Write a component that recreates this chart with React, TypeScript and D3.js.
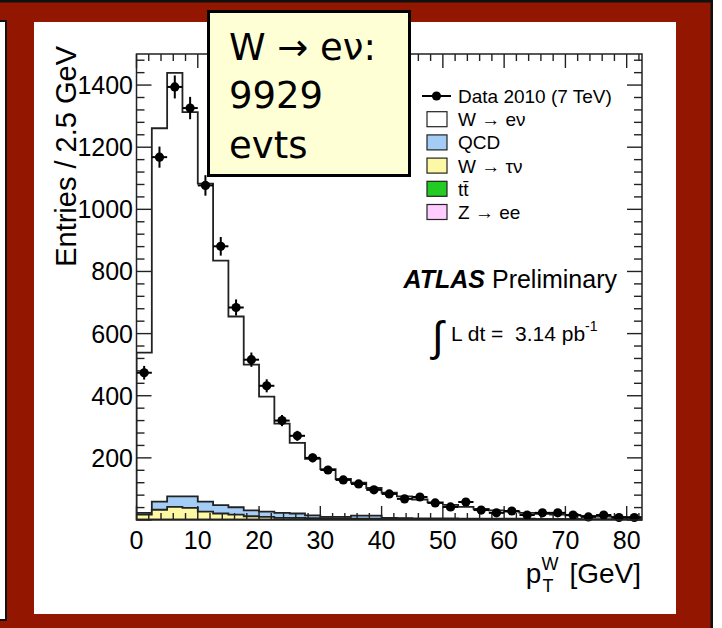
import React from "react";
import * as d3 from "d3";

// ---- data ----
const binWidth = 2.5;
const dataCounts = [474, 1168, 1394, 1326, 1077, 881, 684, 516, 432, 320, 271, 200, 161, 129, 116, 97, 84, 68, 74, 55, 42, 58, 32, 23, 29, 16, 23, 23, 16, 10, 16, 8, 8];
const dataErr = [22, 34, 37, 36, 33, 30, 26, 23, 21, 18, 16, 14, 13, 11, 11, 10, 9, 8, 9, 7, 6, 8, 6, 5, 5, 4, 5, 5, 4, 3, 4, 3, 3];
const wenu = [516, 1202, 1363, 1237, 1024, 787, 614, 469, 370, 287, 227, 182, 154, 122, 106, 89, 81, 70, 61, 52, 44, 38, 32, 27, 23, 19, 17, 14, 12, 11, 9, 8, 7];
const qcd = [6, 26, 34, 37, 32, 27, 24, 19, 17, 16, 14, 9, 5, 5, 10, 10, 3, 2, 2, 2, 2, 1, 1, 1, 1, 1, 1, 1, 1, 1, 1, 1, 1];
const wtaunu = [16, 32, 41, 38, 26, 20, 16, 11, 9, 6, 5, 4, 3, 3, 2, 2, 2, 2, 1, 1, 1, 1, 1, 1, 1, 1, 0, 0, 0, 0, 0, 0, 0];
const ttbar = [0, 0, 0, 0, 0, 0, 0, 0, 0, 0, 1, 1, 1, 1, 1, 1, 1, 1, 1, 1, 1, 1, 1, 1, 1, 1, 1, 1, 1, 0, 0, 0, 0];
const zee = [1, 1, 1, 1, 1, 1, 1, 1, 1, 1, 1, 1, 1, 1, 1, 1, 1, 1, 1, 1, 1, 1, 1, 1, 1, 1, 1, 1, 1, 1, 1, 1, 1];

const xTicksMajor = [0, 10, 20, 30, 40, 50, 60, 70, 80];
const yTicksMajor = [200, 400, 600, 800, 1000, 1200, 1400];

const sampleKeys = ["zee", "ttbar", "wtaunu", "qcd", "wenu"];
const sampleColors: Record<string, string> = {
  wenu: "#ffffff",
  qcd: "#a4cdf6",
  wtaunu: "#fcf8a4",
  ttbar: "#22cc22",
  zee: "#ffccff",
};
const legendItems = [
  { key: "data", label: "Data 2010 (7 TeV)" },
  { key: "wenu", label: "W \u2192 e\u03bd" },
  { key: "qcd", label: "QCD" },
  { key: "wtaunu", label: "W \u2192 \u03c4\u03bd" },
  { key: "ttbar", label: "tt\u0304" },
  { key: "zee", label: "Z \u2192 ee" },
];

const FONT = "'Liberation Sans', Arial, Helvetica, sans-serif";

export default function App() {
  const n = dataCounts.length;
  const x = d3.scaleLinear().domain([0, n * binWidth]).range([136.5, 642]);
  const y = d3.scaleLinear().domain([0, 1500]).range([520, 54]);

  const rows = dataCounts.map((_, i) => ({
    zee: zee[i],
    ttbar: ttbar[i],
    wtaunu: wtaunu[i],
    qcd: qcd[i],
    wenu: wenu[i],
  }));
  const stack = d3.stack<any>().keys(sampleKeys)(rows);

  const stepPath = (vals: number[]) => {
    let p = `M${x(0)},${y(0)}`;
    vals.forEach((v, i) => {
      p += `L${x(i * binWidth)},${y(v)}L${x((i + 1) * binWidth)},${y(v)}`;
    });
    p += `L${x(n * binWidth)},${y(0)}Z`;
    return p;
  };

  // cumulative histograms drawn from the top layer down (ROOT THStack style)
  const layers = stack.map((layer) => ({
    key: layer.key,
    top: layer.map((d) => d[1]),
  }));
  const drawOrder = [...layers].reverse();

  const xMinor = d3.range(0, n * binWidth + 0.01, 2);
  const yMinor = d3.range(0, 1500.01, 40);

  const plotL = x(0), plotR = x(n * binWidth), plotT = y(1500), plotB = y(0);

  const legX = 427;
  const legY0 = 96;
  const legDy = 23.2;

  return (
    <svg width={722} height={628} style={{ position: "absolute", left: 0, top: 0 }} xmlns="http://www.w3.org/2000/svg">
      <defs>
        <clipPath id="plotclip">
          <rect x={plotL} y={plotT} width={plotR - plotL} height={plotB - plotT} />
        </clipPath>
      </defs>
      {/* slide background */}
      <rect x={0} y={0} width={722} height={628} fill="#ffffff" />
      <rect x={0} y={0} width={712} height={628} fill="#921600" />
      <rect x={0} y={0} width={713} height={2.5} fill="#111" />
      <rect x={710.5} y={0} width={2.5} height={628} fill="#111" />
      <rect x={-3} y={21} width={9} height={599} fill="#ffffff" stroke="#111" strokeWidth={2} />
      <rect x={34} y={22} width={642} height={592} fill="#ffffff" />

      {/* stacked MC */}
      <g clipPath="url(#plotclip)">
        {drawOrder.map((l) => (
          <path key={l.key} d={stepPath(l.top)} fill={sampleColors[l.key]} stroke="#222" strokeWidth={1.8} />
        ))}
      </g>

      {/* ticks */}
      <g stroke="#222" strokeWidth={1.4}>
        {xMinor.map((t) => {
          const major = t % 10 === 0;
          const len = major ? 14 : 7;
          return (
            <g key={"xt" + t}>
              <line x1={x(t)} x2={x(t)} y1={plotB} y2={plotB - len} />
              <line x1={x(t)} x2={x(t)} y1={plotT} y2={plotT + len} />
            </g>
          );
        })}
        {yMinor.map((t) => {
          const major = t % 200 === 0;
          const len = major ? 15 : 8;
          return (
            <g key={"yt" + t}>
              <line x1={plotL} x2={plotL + len} y1={y(t)} y2={y(t)} />
              <line x1={plotR} x2={plotR - len} y1={y(t)} y2={y(t)} />
            </g>
          );
        })}
      </g>

      {/* data points */}
      <g stroke="#000" strokeWidth={2} fill="#000">
        {dataCounts.map((v, i) => {
          const cx = x((i + 0.5) * binWidth);
          return (
            <g key={"d" + i}>
              <line x1={cx} x2={cx} y1={y(v - dataErr[i])} y2={y(v + dataErr[i])} />
              <line x1={x(i * binWidth)} x2={x((i + 1) * binWidth)} y1={y(v)} y2={y(v)} />
              <circle cx={cx} cy={y(v)} r={4.6} stroke="none" />
            </g>
          );
        })}
      </g>

      {/* frame */}
      <rect x={plotL} y={plotT} width={plotR - plotL} height={plotB - plotT} fill="none" stroke="#222" strokeWidth={1.5} />

      {/* tick labels */}
      <g fontFamily={FONT} fontSize={25} fill="#000">
        {xTicksMajor.map((t) => (
          <text key={"xl" + t} x={x(t)} y={549} textAnchor="middle">{t}</text>
        ))}
        {yTicksMajor.map((t) => (
          <text key={"yl" + t} x={133} y={y(t) + 9} textAnchor="end">{t}</text>
        ))}
      </g>

      {/* axis titles */}
      <text fontFamily={FONT} fontSize={29} textAnchor="end" transform={`translate(76,46) rotate(-90)`} fill="#000">
        Entries / 2.5 GeV
      </text>
      <text fontFamily={FONT} fontSize={28} textAnchor="end" x={641} y={583} fill="#000">
        <tspan>p</tspan>
        <tspan fontSize={18} dy={-13}>W</tspan>
        <tspan fontSize={18} dx={-16} dy={22}>T</tspan>
        <tspan fontSize={28} dx={16} dy={-9}>[GeV]</tspan>
      </text>

      {/* legend */}
      <g fontFamily={FONT} fontSize={19} fill="#000">
        {legendItems.map((it, i) => {
          const cy = legY0 + i * legDy;
          return (
            <g key={it.key}>
              {it.key === "data" ? (
                <g>
                  <line x1={legX - 5} x2={legX + 24} y1={cy} y2={cy} stroke="#000" strokeWidth={2} />
                  <circle cx={legX + 9.5} cy={cy} r={4.6} fill="#000" />
                </g>
              ) : (
                <rect x={legX} y={cy - 7.5} width={20} height={15} fill={sampleColors[it.key]} stroke="#222" strokeWidth={1.2} />
              )}
              <text x={legX + 31} y={cy + 7}>{it.label}</text>
            </g>
          );
        })}
      </g>

      {/* ATLAS label */}
      <text fontFamily={FONT} fontSize={25} x={617} y={288} textAnchor="end" fill="#000">
        <tspan fontWeight="bold" fontStyle="italic">ATLAS</tspan>
        <tspan> Preliminary</tspan>
      </text>
      <text fontFamily={FONT} fill="#000" x={432} y={351} fontSize={42}>{"\u222b"}</text>
      <text fontFamily={FONT} fill="#000" x={451} y={341} fontSize={21} style={{ whiteSpace: "pre" }}>
        <tspan>{"L dt =  3.14 pb"}</tspan>
        <tspan fontSize={14} dy={-10}>{"-1"}</tspan>
      </text>

      {/* annotation box */}
      <rect x={208.5} y={11.5} width={201} height={164} fill="#ffffd5" stroke="#000" strokeWidth={3} />
      <g fontFamily="'DejaVu Sans', sans-serif" fontSize={37} fill="#000">
        <text x={229} y={60}>{"W \u2192 e\u03bd:"}</text>
        <text x={229} y={108}>9929</text>
        <text x={229} y={158}>evts</text>
      </g>
    </svg>
  );
}
